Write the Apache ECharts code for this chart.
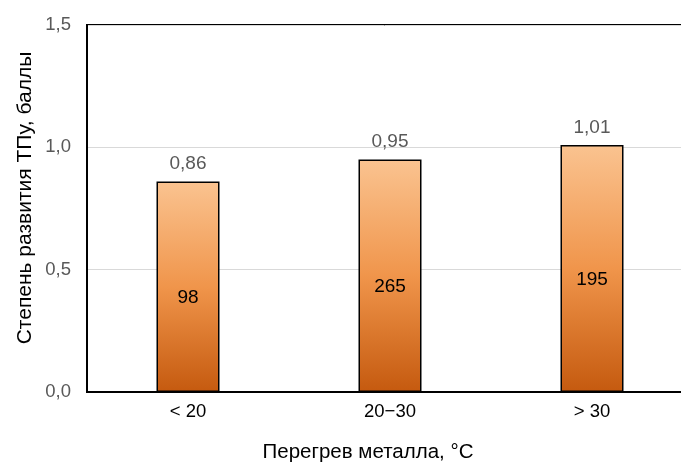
<!DOCTYPE html>
<html>
<head>
<meta charset="utf-8">
<script src="https://cdn.jsdelivr.net/npm/echarts@6/dist/echarts.min.js"></script>
<style>
html,body{margin:0;padding:0;background:#fff;}
#c{width:681px;height:464px;}
</style>
</head>
<body>
<div id="c"></div>
<script>
const categories = ['< 20', '20\u221230', '> 30'];
const scores = [0.86, 0.95, 1.01];
const counts = [98, 265, 195];
const yTicks = [0, 0.5, 1.0, 1.5];
const yAxisTitle = 'Степень развития ТПу, баллы';
const xAxisTitle = 'Перегрев металла, °C';

const FONT = "'Liberation Sans', Arial, sans-serif";
const chart = echarts.init(document.getElementById('c'), null, {renderer: 'canvas'});

const fmt = v => v.toFixed(2).replace('.', ',');

chart.setOption({
  animation: false,
  textStyle: {fontFamily: FONT},
  grid: {left: 87, top: 25, width: 606, height: 367, outerBoundsMode: 'none', containLabel: false,
    show: true, borderColor: '#000', borderWidth: 2, backgroundColor: 'transparent'},
  xAxis: {
    type: 'category',
    data: categories,
    axisLine: {show: true, lineStyle: {color: '#000', width: 2}},
    axisTick: {show: false},
    axisLabel: {color: '#000', fontSize: 18.5, fontFamily: FONT, margin: 10}
  },
  yAxis: {
    type: 'value',
    min: yTicks[0],
    max: yTicks[yTicks.length - 1],
    interval: 0.5,
    axisLine: {show: true, lineStyle: {color: '#000', width: 2}},
    axisTick: {show: false},
    axisLabel: {color: '#595959', fontSize: 18.5, fontFamily: FONT, margin: 16,
      formatter: v => v.toFixed(1).replace('.', ',')},
    splitLine: {show: true, lineStyle: {color: '#D9D9D9', width: 1}}
  },
  graphic: [{
    type: 'text',
    x: 368,
    y: 452,
    style: {text: xAxisTitle, fill: '#000', font: "20.5px 'Liberation Sans', Arial, sans-serif",
      textAlign: 'center', textVerticalAlign: 'middle'}
  }, {
    type: 'text',
    x: 25,
    y: 198,
    rotation: Math.PI / 2,
    style: {text: yAxisTitle, fill: '#000', font: "21px 'Liberation Sans', Arial, sans-serif",
      textAlign: 'center', textVerticalAlign: 'middle'}
  }],
  series: [
    {
      type: 'bar',
      data: scores,
      barWidth: 63,
      itemStyle: {
        borderColor: '#000',
        borderWidth: 1.5,
        color: new echarts.graphic.LinearGradient(0, 0, 0, 1, [
          {offset: 0, color: '#FAC390'},
          {offset: 0.5, color: '#F0954B'},
          {offset: 1, color: '#C55A0F'}
        ])
      },
      label: {
        show: true,
        position: 'inside',
        offset: [0, 11],
        color: '#000',
        fontSize: 19,
        fontFamily: FONT,
        formatter: p => String(counts[p.dataIndex])
      }
    },
    {
      type: 'bar',
      data: scores,
      barWidth: 63,
      barGap: '-100%',
      silent: true,
      itemStyle: {color: 'transparent'},
      label: {
        show: true,
        position: 'top',
        distance: 8,
        color: '#595959',
        fontSize: 19,
        fontFamily: FONT,
        formatter: p => fmt(p.value)
      }
    }
  ]
});
</script>
</body>
</html>
